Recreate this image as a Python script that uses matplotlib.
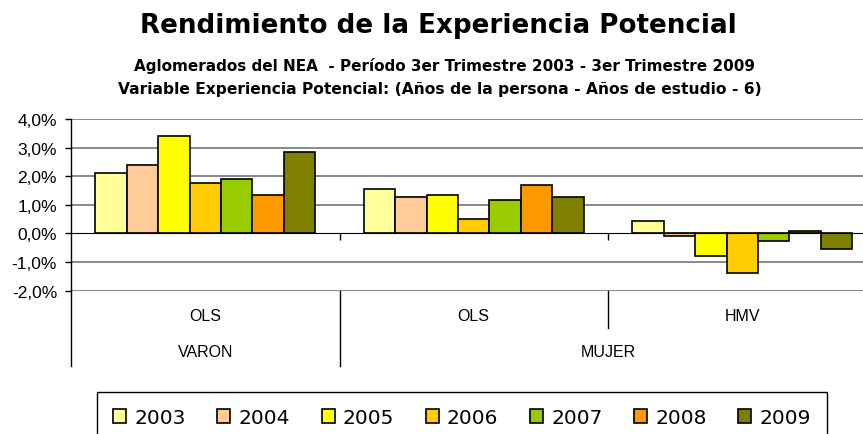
import numpy as np
import matplotlib
matplotlib.use("Agg")
import matplotlib.pyplot as plt
import matplotlib.transforms as mtransforms

plt.rcParams['font.family'] = ['Liberation Sans', 'DejaVu Sans']

years = ['2003', '2004', '2005', '2006', '2007', '2008', '2009']
methods = ['OLS', 'OLS', 'HMV']
sexes = ['VARON', 'MUJER']
# rendimiento (%) por año: VARON-OLS, MUJER-OLS, MUJER-HMV
v_2003 = [2.12, 1.56, 0.44]
v_2004 = [2.39, 1.27, -0.10]
v_2005 = [3.39, 1.33, -0.78]
v_2006 = [1.77, 0.50, -1.39]
v_2007 = [1.89, 1.16, -0.27]
v_2008 = [1.33, 1.71, 0.10]
v_2009 = [2.84, 1.27, -0.56]
series = [v_2003, v_2004, v_2005, v_2006, v_2007, v_2008, v_2009]
colors = ['#FFFF99', '#FFCC99', '#FFFF00', '#FFCC00', '#99CC00', '#FF9900', '#808000']

W, H = 863, 435
fig = plt.figure(figsize=(W / 100, H / 100), dpi=100)
ax = fig.add_axes([71 / W, 1 - 291.7 / H, (876.5 - 71) / W, (291.7 - 120) / H])

x = np.arange(len(methods))
bw = 0.117
for i, (vals, c, yr) in enumerate(zip(series, colors, years)):
    ax.bar(x + (i - 3) * bw, vals, width=bw, color=c, edgecolor='black',
           linewidth=1.2, label=yr, zorder=3)

ax.set_xlim(-0.5, 2.5)
ax.set_ylim(-2, 4)
yt = np.arange(-2, 5, 1)
ax.set_yticks(yt)
ax.set_yticklabels([('%.1f%%' % v).replace('.', ',') for v in yt], fontsize=12.5)
for v in yt:
    if v != 0:
        ax.axhline(v, color='#808080', linewidth=1.3, zorder=1)

ax.spines['top'].set_visible(False)
ax.spines['right'].set_visible(False)
ax.spines['bottom'].set_position(('data', 0))
ax.spines['bottom'].set_zorder(4)
ax.spines['left'].set_linewidth(1)
ax.set_xticks([0.5, 1.5])
ax.set_xticklabels([])
ax.tick_params(axis='x', direction='out', length=5, width=1)
ax.tick_params(axis='y', direction='out', length=4, width=1, pad=6)

# two-level category axis below the plot
tr = mtransforms.blended_transform_factory(ax.transData, ax.transAxes)
ax.plot([-0.5, -0.5], [0, -0.44], color='black', lw=1, transform=tr, clip_on=False)
ax.plot([0.5, 0.5], [0, -0.44], color='black', lw=1, transform=tr, clip_on=False)
ax.plot([1.5, 1.5], [0, -0.217], color='black', lw=1, transform=tr, clip_on=False)
for xi, m in zip(x, methods):
    ax.text(xi, -0.142, m, transform=tr, ha='center', va='center', fontsize=11.5)
ax.text(0, -0.357, sexes[0], transform=tr, ha='center', va='center', fontsize=11.5)
ax.text(1.5, -0.357, sexes[1], transform=tr, ha='center', va='center', fontsize=11.5)

fig.text(438.5 / W, 1 - 33 / H, 'Rendimiento de la Experiencia Potencial',
         ha='center', va='baseline', fontsize=18.8, fontweight='bold', family='DejaVu Sans')
fig.text(444.5 / W, 1 - 70.5 / H,
         'Aglomerados del NEA  - Período 3er Trimestre 2003 - 3er Trimestre 2009',
         ha='center', va='baseline', fontsize=11.0, fontweight='bold', family='DejaVu Sans')
fig.text(440 / W, 1 - 94 / H,
         'Variable Experiencia Potencial: (Años de la persona - Años de estudio - 6)',
         ha='center', va='baseline', fontsize=11.2, fontweight='bold', family='DejaVu Sans')

leg = fig.legend(loc='upper left', bbox_to_anchor=(97 / W, 1 - 393 / H, (827 - 97) / W, 0),
                 mode='expand', ncol=7, handlelength=0.65, handleheight=0.65,
                 handletextpad=0.4, borderpad=0.8, fancybox=False, framealpha=1,
                 edgecolor='black', borderaxespad=0,
                 prop={'family': 'DejaVu Sans', 'size': 14.5})
leg.get_frame().set_linewidth(1)

fig.savefig('out.png', dpi=100)
